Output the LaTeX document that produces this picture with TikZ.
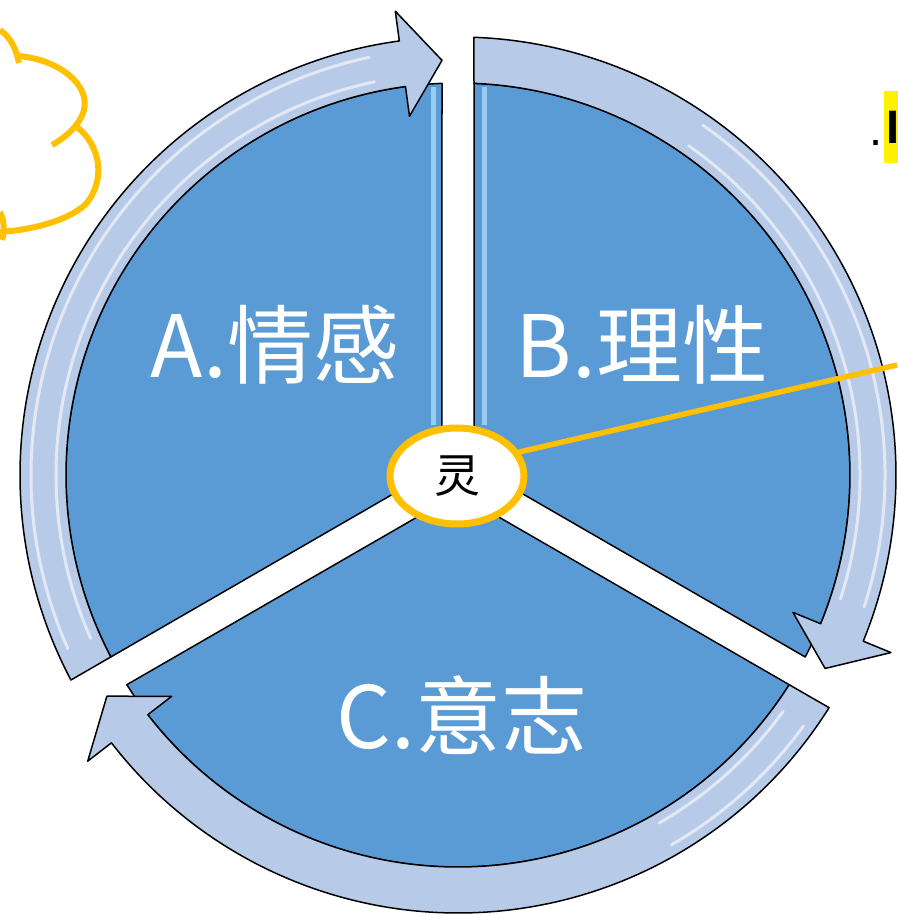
\documentclass[tikz,border=0pt]{standalone}
\usepackage{fontspec}
\usetikzlibrary{shapes.geometric}
\newfontfamily\cjk{Noto Sans CJK SC}
\setsansfont{Liberation Sans}
\definecolor{segblue}{RGB}{91,155,213}
\definecolor{ringblue}{RGB}{183,202,232}
\definecolor{edgecyan}{RGB}{168,218,246}
\definecolor{lingorange}{RGB}{255,192,0}

\begin{document}
\begin{tikzpicture}[x=1pt,y=1pt]
	\useasboundingbox (-458,-440) rectangle (439,475);

	% the three blue segments
	\begin{scope}[every path/.style={fill=segblue,draw=black,line width=1.5pt,line join=round}]
		\path (150:18.48) -- (207.66:392) arc[start angle=207.66, end angle=92.34, radius=392] -- cycle;
		\path (30:18.48) -- (87.66:392) arc[start angle=87.66, end angle=-27.66, radius=392] -- cycle;
		\path (270:18.48) -- (327.66:392) arc[start angle=327.66, end angle=212.34, radius=392] -- cycle;
	\end{scope}

	% light strips along the gaps
	\begin{scope}[every path/.style={draw=edgecyan,line width=5pt,opacity=0.8}]
		\path (-25,50) -- (-25,388);
		\path (26,50) -- (26,388);
	\end{scope}

	% arrow rings round the segments
	\begin{scope}[every path/.style={fill=ringblue,draw=black,line width=1.5pt,line join=round}]
		\path (207.66:392) -- (207.91:438) arc[start angle=207.91, end angle=97.7, radius=438]
			-- (97.7:468) -- (92.21:415) -- (97.7:362) -- (97.7:392)
			arc[start angle=97.7, end angle=207.66, radius=392] -- cycle;
		\path (87.66:392) -- (87.91:438) arc[start angle=87.91, end angle=-22.3, radius=438]
			-- (-22.3:468) -- (-27.79:415) -- (-22.3:362) -- (-22.3:392)
			arc[start angle=-22.3, end angle=87.66, radius=392] -- cycle;
		\path (327.66:392) -- (327.91:438) arc[start angle=327.91, end angle=217.7, radius=438]
			-- (217.7:468) -- (212.21:415) -- (217.7:362) -- (217.7:392)
			arc[start angle=217.7, end angle=327.66, radius=392] -- cycle;
	\end{scope}

	% gloss on the rings
	\begin{scope}[every path/.style={draw=white,line width=3pt,opacity=0.6,line cap=round}]
		\path (204:427) arc[start angle=204, end angle=102, radius=427];
		\path (204:402) arc[start angle=204, end angle=102, radius=402];
		\path (55:427) arc[start angle=55, end angle=-18, radius=427];
		\path (55:402) arc[start angle=55, end angle=-18, radius=402];
		\path (324:427) arc[start angle=324, end angle=300, radius=427];
		\path (324:402) arc[start angle=324, end angle=300, radius=402];
	\end{scope}

	% callout line and centre
	\coordinate (edgept) at (439,110);
	\draw[lingorange,line width=5.5pt] (-1,-1) ++(22:60) coordinate (lingstart) -- (edgept);
	\node[ellipse,draw=lingorange,line width=7pt,fill=white,minimum width=134pt,minimum height=96pt,
		inner sep=0pt,font=\cjk\fontsize{46}{46}\selectfont] (ling) at (-1,-1) {灵};

	% segment labels
	\begin{scope}[every node/.style={text=white,inner sep=0pt,anchor=base,font=\cjk\fontsize{86}{86}\selectfont}]
		\node (qinggan) at (-183,97) {A.情感};
		\node (lixing) at (184,97) {B.理性};
		\node (yizhi) at (4,-273) {C.意志};
	\end{scope}

	% cut-off text at the top right
	\node[anchor=base east,inner sep=0pt,font=\sffamily\fontsize{47}{47}\selectfont] (dot) at (425,329) {.};
	\node[anchor=north west,fill=yellow,inner xsep=2pt,inner ysep=0pt,minimum height=72pt,
		font=\sffamily\bfseries\fontsize{47}{47}\selectfont] (mark) at (426,384) {I};

	% cloud at the top left
	\begin{scope}[shift={(-458,475)},yscale=-1,lingorange,line width=6pt]
		\draw (0,30) .. controls (10,37) and (16,48) .. (19,63);
		\draw (19,56) .. controls (60,60) and (90,85) .. (84,110) .. controls (80,125) and (65,138) .. (52,145);
		\draw (77,127) .. controls (100,145) and (107,180) .. (85,205) .. controls (65,222) and (30,230) .. (0,232);
		\draw (0,212) .. controls (4,220) and (5,230) .. (2,240);
	\end{scope}
\end{tikzpicture}
\end{document}
